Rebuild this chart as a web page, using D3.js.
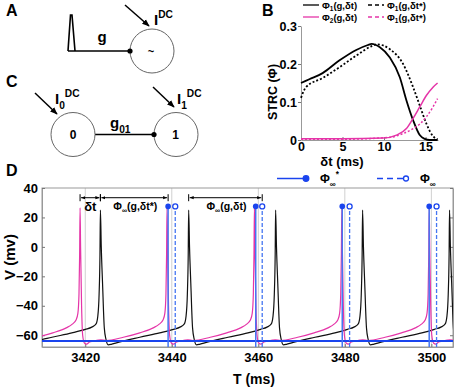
<!DOCTYPE html>
<html>
<head>
<meta charset="utf-8">
<script src="https://cdn.jsdelivr.net/npm/d3@7"></script>
<style>
body { margin: 0; background: #fff; }
text { font-family: "Liberation Sans", Arial, sans-serif; font-weight: bold; fill: #000; }
</style>
</head>
<body>
<svg id="fig"></svg>
<script>
// ---- Panel B data: STRC curves, [dt (ms), phi] ----
const phi1 = [[0,0.150],[1,0.160],[2.6,0.176],[4.6,0.209],[6.65,0.237],[8.06,0.250],[8.5,0.253],[9.5,0.244],[10.7,0.217],[11.9,0.165],[12.7,0.104],[13.5,0.052],[14.3,0.013],[14.9,0.003],[15.5,0],[16.45,0]];
const phi1Star = [[0,0.111],[0.6,0.139],[2.6,0.163],[4.6,0.191],[6.65,0.222],[8.7,0.249],[9.1,0.252],[10.7,0.239],[12.3,0.200],[13.5,0.139],[14.3,0.091],[15.1,0.043],[15.9,0.010],[16.45,0.002]];
const phi2 = [[0,0.003],[5,0.003],[9.9,0.005],[11.5,0.013],[12.7,0.030],[13.5,0.057],[14.3,0.087],[15.1,0.117],[15.9,0.139],[16.45,0.150]];
const phi2Star = [[0,0.002],[5,0.002],[10.7,0.007],[12.3,0.017],[13.5,0.030],[14.3,0.042],[15.1,0.061],[15.9,0.087],[16.45,0.109]];
const ticksDt = [0, 5, 10, 15];
const ticksPhi = [0, 0.1, 0.2, 0.3];

// ---- Panel D data ----
const ticksT = [3420, 3440, 3460, 3480, 3500];
const ticksV = [-60, -40, -20, 0, 20, 40];
// spike peak times (ms); first entry lies before the window
const peaksMagenta = [3398.7, 3418.8, 3438.9, 3459.1, 3479.3, 3499.5];
const peaksBlack = [3403.2, 3423.5, 3443.9, 3464.0, 3484.1, 3504.2];
const peakVMagenta = 26.5;
const peakVBlack = 25;
// spike shape: [offset from peak (ms), V (mV)]
const beforeMagenta = [[-3.2,-55],[-1.8,-52.5],[-0.9,-49.5],[-0.5,-45],[-0.25,-32],[-0.1,-5]];
const afterMagenta = [[0.12,0],[0.35,-40],[0.6,-60],[1.0,-65.3],[1.5,-66],[2.2,-64.6],[3.0,-64.1],[4.2,-63.3],[4.8,-63.1],[6.0,-63.6],[10,-61.4],[13.8,-58.4]];
const beforeBlack = [[-3.5,-56],[-2,-54.5],[-1,-52.3],[-0.6,-47],[-0.3,-32],[-0.1,-5]];
const afterBlack = [[0.2,0],[0.5,-25],[0.9,-55],[1.3,-63],[1.8,-66.5],[2.5,-66.2],[3.7,-65.2],[9.1,-61.4],[13.7,-58.4]];
const phiStarT = [3439.15, 3459.4, 3479.4, 3499.5];
const phiInfT = [3440.8, 3460.9, 3481.1, 3501.2];
const restV = -64;
const markerV = 27.5;
const spans = [
  { from: 3418.8, to: 3423.5, label: "δt" },
  { from: 3423.5, to: 3439.15, label: "δt*" },
  { from: 3443.9, to: 3460.9, label: "δt" }
];

const magenta = "#e535a8";
const blue = "#1a44ee";
const blueLine = "#4576f2";

const svg = d3.select("#fig").attr("width", 454).attr("height", 387);
const defs = svg.append("defs");
defs.append("marker").attr("id", "head")
  .attr("viewBox", "0 0 10 10").attr("refX", 9).attr("refY", 5)
  .attr("markerWidth", 5).attr("markerHeight", 5)
  .attr("orient", "auto-start-reverse")
  .append("path").attr("d", "M0,1L10,5L0,9z").attr("fill", "#000");
defs.append("marker").attr("id", "headSmall")
  .attr("viewBox", "0 0 10 10").attr("refX", 10).attr("refY", 5)
  .attr("markerWidth", 4).attr("markerHeight", 4)
  .attr("orient", "auto-start-reverse")
  .append("path").attr("d", "M0,1L10,5L0,9z").attr("fill", "#000");

// panel letters
[["A", 6, 16], ["B", 262, 16], ["C", 6, 87], ["D", 6, 176]].forEach(([l, x, y]) => {
  svg.append("text").attr("x", x).attr("y", y).attr("font-size", 16).text(l);
});

// helper: text with sub / superscript pieces
function richText(g, x, y, size, parts, anchor) {
  const t = g.append("text").attr("x", x).attr("y", y).attr("font-size", size)
    .attr("text-anchor", anchor || "start");
  let shift = 0;
  parts.forEach(p => {
    const target = p.sub ? size * 0.3 : p.sup ? -size * 0.5 : 0;
    t.append("tspan").attr("dy", target - shift)
      .attr("font-size", (p.sub || p.sup) ? size * 0.68 : size)
      .text(p.t);
    shift = target;
  });
  return t;
}

// ---- Panel A: spike input to an oscillator ----
const gA = svg.append("g");
gA.append("path").attr("d", "M68,51 L70.5,15 L72,15 L75,51").attr("fill", "none").attr("stroke", "#000").attr("stroke-width", 1.6);
gA.append("line").attr("x1", 68).attr("y1", 51).attr("x2", 130).attr("y2", 51).attr("stroke", "#000").attr("stroke-width", 1.6);
gA.append("circle").attr("cx", 152).attr("cy", 51).attr("r", 22).attr("fill", "none").attr("stroke", "#666");
gA.append("circle").attr("cx", 130).attr("cy", 51).attr("r", 2.6).attr("fill", "#000");
gA.append("text").attr("x", 102).attr("y", 42).attr("font-size", 15).attr("text-anchor", "middle").text("g");
gA.append("text").attr("x", 151).attr("y", 55).attr("font-size", 11).attr("text-anchor", "middle").text("~");
gA.append("line").attr("x1", 125).attr("y1", 5).attr("x2", 149).attr("y2", 26).attr("stroke", "#000").attr("stroke-width", 1.5).attr("marker-end", "url(#head)");
richText(gA, 154, 25, 15, [{ t: "I" }, { t: "DC", sup: true }]);

// ---- Panel C: two coupled cells ----
const gC = svg.append("g");
gC.append("line").attr("x1", 95).attr("y1", 134.5).attr("x2", 154).attr("y2", 134.5).attr("stroke", "#000").attr("stroke-width", 1.6);
gC.append("circle").attr("cx", 73).attr("cy", 134.5).attr("r", 22).attr("fill", "none").attr("stroke", "#666");
gC.append("circle").attr("cx", 176).attr("cy", 134.5).attr("r", 22).attr("fill", "none").attr("stroke", "#666");
gC.append("circle").attr("cx", 154).attr("cy", 134.5).attr("r", 2.6).attr("fill", "#000");
gC.append("text").attr("x", 73).attr("y", 139).attr("font-size", 12).attr("text-anchor", "middle").text("0");
gC.append("text").attr("x", 175.5).attr("y", 139).attr("font-size", 12).attr("text-anchor", "middle").text("1");
richText(gC, 110, 128, 15, [{ t: "g" }, { t: "01", sub: true }]);
gC.append("line").attr("x1", 35).attr("y1", 93).attr("x2", 57).attr("y2", 114).attr("stroke", "#000").attr("stroke-width", 1.5).attr("marker-end", "url(#head)");
gC.append("line").attr("x1", 153).attr("y1", 87).attr("x2", 174).attr("y2", 107).attr("stroke", "#000").attr("stroke-width", 1.5).attr("marker-end", "url(#head)");
richText(gC, 55, 104, 15, [{ t: "I" }, { t: "0", sub: true }, { t: "DC", sup: true }]);
richText(gC, 177, 104, 15, [{ t: "I" }, { t: "1", sub: true }, { t: "DC", sup: true }]);

// ---- Panel B ----
const xB = d3.scaleLinear().domain([0, 16.5]).range([301, 438]);
const yB = d3.scaleLinear().domain([0, 0.3]).range([140, 26]);
const gB = svg.append("g");
const lineB = d3.line().x(d => xB(d[0])).y(d => yB(d[1])).curve(d3.curveMonotoneX);

const axBx = gB.append("g").attr("transform", "translate(0,140)")
  .call(d3.axisBottom(xB).tickValues(ticksDt).tickSize(-3).tickSizeOuter(0).tickPadding(2));
const axBy = gB.append("g").attr("transform", "translate(301,0)")
  .call(d3.axisLeft(yB).tickValues(ticksPhi).tickSize(3).tickSizeOuter(0).tickPadding(1)
    .tickFormat(d => d === 0 ? "0" : d.toFixed(1)));
[axBx, axBy].forEach(a => {
  a.selectAll("text").attr("font-size", 12.5).attr("font-family", null);
  a.select(".domain").attr("stroke", "#999");
  a.selectAll(".tick line").attr("stroke", "#777");
});

const seriesB = [
  { data: phi1, color: "#000", dash: null, w: 1.8 },
  { data: phi1Star, color: "#000", dash: "2,2", w: 1.8 },
  { data: phi2, color: magenta, dash: null, w: 1.5 },
  { data: phi2Star, color: magenta, dash: "2,2", w: 1.5 }
];
gB.selectAll("path.strc").data(seriesB).join("path").attr("class", "strc")
  .attr("d", d => lineB(d.data)).attr("fill", "none")
  .attr("stroke", d => d.color).attr("stroke-width", d => d.w)
  .attr("stroke-dasharray", d => d.dash);

gB.append("text").attr("x", 342).attr("y", 166).attr("font-size", 13).attr("text-anchor", "middle").text("δt (ms)");
gB.append("text").attr("transform", "translate(277,92) rotate(-90)").attr("font-size", 12.5).attr("text-anchor", "middle").text("STRC (Φ)");

// legend B
const legendB = [
  { x: 303, y: 5, color: "#000", dash: null, sub: "1", rest: "(g,δt)" },
  { x: 368, y: 5, color: "#000", dash: "4,3", sub: "1", rest: "(g,δt*)" },
  { x: 303, y: 17, color: magenta, dash: null, sub: "2", rest: "(g,δt)" },
  { x: 368, y: 17, color: magenta, dash: "4,3", sub: "1", rest: "(g,δt*)" }
];
legendB.forEach(l => {
  gB.append("line").attr("x1", l.x).attr("x2", l.x + 16).attr("y1", l.y).attr("y2", l.y)
    .attr("stroke", l.color).attr("stroke-width", 1.3).attr("stroke-dasharray", l.dash);
  richText(gB, l.x + 19, l.y + 3.5, 9.5, [{ t: "Φ" }, { t: l.sub, sub: true }, { t: l.rest }]);
});

// ---- Panel D ----
const xD = d3.scaleLinear().domain([3410, 3505]).range([42, 453]);
const yD = d3.scaleLinear().domain([-68, 40]).range([347, 188]);
const gD = svg.append("g");
defs.append("clipPath").attr("id", "clipD").append("rect")
  .attr("x", 42).attr("y", 188).attr("width", 411).attr("height", 159);

// grid
gD.selectAll("line.grid").data(ticksT).join("line").attr("class", "grid")
  .attr("x1", d => xD(d)).attr("x2", d => xD(d)).attr("y1", 188).attr("y2", 347)
  .attr("stroke", "#d0d0d0").attr("stroke-width", 1);

// box + axes
gD.append("rect").attr("x", 42).attr("y", 188).attr("width", 411).attr("height", 159)
  .attr("fill", "none").attr("stroke", "#999");
const axDx = gD.append("g").attr("transform", "translate(0,347)")
  .call(d3.axisBottom(xD).tickValues(ticksT).tickSize(-3).tickSizeOuter(0).tickPadding(6)
    .tickFormat(d3.format("d")));
const axDy = gD.append("g").attr("transform", "translate(42,0)")
  .call(d3.axisLeft(yD).tickValues(ticksV).tickSize(-3).tickSizeOuter(0).tickPadding(4)
    .tickFormat(d => d < 0 ? "−" + Math.abs(d) : d));
const axDr = gD.append("g").attr("transform", "translate(453,0)")
  .call(d3.axisRight(yD).tickValues(ticksV).tickSize(-3).tickSizeOuter(0).tickFormat(""));
[axDx, axDy, axDr].forEach(a => {
  a.selectAll("text").attr("font-size", 13).attr("font-family", null);
  a.select(".domain").attr("stroke", "#999");
  a.selectAll(".tick line").attr("stroke", "#777");
});

function buildTrace(peaks, peakV, before, after) {
  const pts = [];
  peaks.forEach((p, i) => {
    if (i > 0) before.forEach(([o, v]) => pts.push([p + o, v]));
    pts.push([p, peakV]);
    after.forEach(([o, v]) => pts.push([p + o, v]));
  });
  return pts;
}
const lineD = d3.line().x(d => xD(d[0])).y(d => yD(d[1])).curve(d3.curveMonotoneX);
const traces = gD.append("g").attr("clip-path", "url(#clipD)");
traces.append("path").attr("d", lineD(buildTrace(peaksBlack, peakVBlack, beforeBlack, afterBlack)))
  .attr("fill", "none").attr("stroke", "#111").attr("stroke-width", 1.2);
traces.append("path").attr("d", lineD(buildTrace(peaksMagenta, peakVMagenta, beforeMagenta, afterMagenta)))
  .attr("fill", "none").attr("stroke", magenta).attr("stroke-width", 1.2);

// rest line
traces.append("line").attr("x1", 42).attr("x2", 453).attr("y1", yD(restV)).attr("y2", yD(restV))
  .attr("stroke", blue).attr("stroke-width", 2);

// phase markers
traces.selectAll("line.star").data(phiStarT).join("line").attr("class", "star")
  .attr("x1", d => xD(d)).attr("x2", d => xD(d)).attr("y1", 347).attr("y2", yD(markerV))
  .attr("stroke", blueLine).attr("stroke-width", 1.5);
traces.selectAll("line.inf").data(phiInfT).join("line").attr("class", "inf")
  .attr("x1", d => xD(d)).attr("x2", d => xD(d)).attr("y1", 347).attr("y2", yD(markerV))
  .attr("stroke", blueLine).attr("stroke-width", 1.3).attr("stroke-dasharray", "4,2");
gD.selectAll("circle.star").data(phiStarT).join("circle").attr("class", "star")
  .attr("cx", d => xD(d)).attr("cy", yD(markerV)).attr("r", 2.8).attr("fill", blue);
gD.selectAll("circle.inf").data(phiInfT).join("circle").attr("class", "inf")
  .attr("cx", d => xD(d)).attr("cy", yD(markerV)).attr("r", 2.5).attr("fill", "#fff")
  .attr("stroke", blue).attr("stroke-width", 1.3);

// interval annotations
const yA = yD(33.4);
spans.forEach((s, i) => {
  const x1 = xD(s.from), x2 = xD(s.to);
  gD.append("line").attr("x1", x1 + 1).attr("x2", x2 - 1).attr("y1", yA).attr("y2", yA)
    .attr("stroke", "#000").attr("stroke-width", 1)
    .attr("marker-start", "url(#headSmall)").attr("marker-end", "url(#headSmall)");
  [x1, x2].forEach(x => gD.append("line").attr("x1", x).attr("x2", x)
    .attr("y1", yA - 3.5).attr("y2", yA + 3.5).attr("stroke", "#000").attr("stroke-width", 1));
  const cx = (x1 + x2) / 2;
  if (i === 0) {
    gD.append("text").attr("x", cx).attr("y", 211).attr("font-size", 13).attr("text-anchor", "middle").text(s.label);
  } else {
    richText(gD, cx + 1, 210, 10.5, [{ t: "Φ" }, { t: "∞", sub: true }, { t: "(g," + s.label + ")" }], "middle");
  }
});

// legend D
const legendD = [
  { x: 277, dash: null, filled: true, sup: "*" },
  { x: 377, dash: "6,4", filled: false, sup: "" }
];
legendD.forEach(l => {
  gD.append("line").attr("x1", l.x).attr("x2", l.x + 29).attr("y1", 178.5).attr("y2", 178.5)
    .attr("stroke", blue).attr("stroke-width", 1.5).attr("stroke-dasharray", l.dash);
  gD.append("circle").attr("cx", l.x + 29).attr("cy", 178.5).attr("r", l.filled ? 2.8 : 2.5)
    .attr("fill", l.filled ? blue : "#fff").attr("stroke", blue).attr("stroke-width", 1.3);
  const parts = [{ t: "Φ" }, { t: "∞", sub: true }];
  if (l.sup) parts.push({ t: l.sup, sup: true });
  richText(gD, l.x + 43, 183, 12, parts);
});

gD.append("text").attr("x", 254).attr("y", 384).attr("font-size", 14).attr("text-anchor", "middle").text("T (ms)");
gD.append("text").attr("transform", "translate(15,257) rotate(-90)").attr("font-size", 15).attr("text-anchor", "middle").text("V (mv)");
</script>
</body>
</html>
